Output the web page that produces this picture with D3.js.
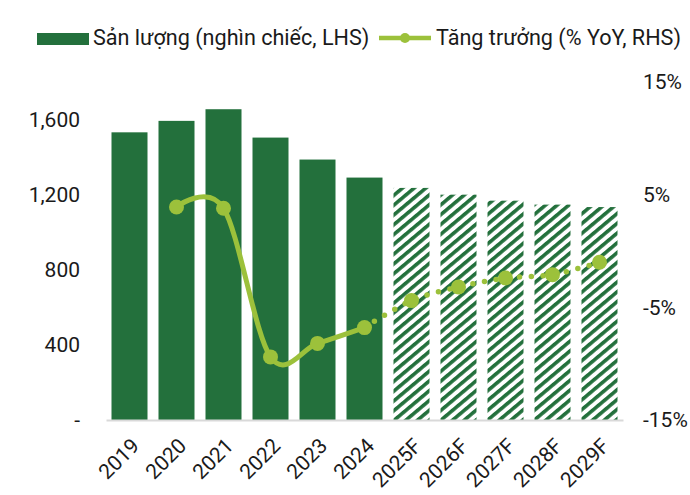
<!DOCTYPE html>
<html>
<head>
<meta charset="utf-8">
<script src="https://cdn.jsdelivr.net/npm/d3@7"></script>
<style>
  html, body { margin: 0; padding: 0; background: #fff; }
  svg { display: block; }
  svg text { font-family: Roboto, "Noto Sans", sans-serif; }
</style>
</head>
<body>
<div id="chart"></div>
<script>
// Chart data
var years    = [ '2019', '2020', '2021', '2022', '2023', '2024', '2025F', '2026F', '2027F', '2028F', '2029F' ];
var forecast = [ false, false, false, false, false, false, true, true, true, true, true ];
var output   = [ 1532, 1593, 1655, 1504, 1387, 1291, 1236, 1200, 1168, 1147, 1134 ];
var growth   = [ null, 3.9, 3.8, -9.4, -8.2, -6.8, -4.4, -3.2, -2.4, -2.1, -1.0 ];
var leftTicks  = [ 0, 400, 800, 1200, 1600 ];
var rightTicks = [ -15, -5, 5, 15 ];
var legendLabels = [ 'Sản lượng (nghìn chiếc, LHS)', 'Tăng trưởng (% YoY, RHS)' ];

( function () {
	'use strict';

	var COLORS = {
		bar:  '#23703c',
		line: '#9cc13b',
		axis: '#d9d9d9',
		text: '#1a1a1a'
	};
	var FONT = '21px';
	var LEGEND_FONT = '21.6px';

	var width = 690, height = 495;
	var margin = { top: 82, right: 67, bottom: 75, left: 106 };
	var iw = width - margin.left - margin.right;
	var ih = height - margin.top - margin.bottom;

	var svg = d3.select( '#chart' ).append( 'svg' )
		.attr( 'width', width )
		.attr( 'height', height );

	// Hatch pattern for forecast bars.
	var defs = svg.append( 'defs' );
	var pat = defs.append( 'pattern' )
		.attr( 'id', 'hatch' )
		.attr( 'patternUnits', 'userSpaceOnUse' )
		.attr( 'width', 7.5 )
		.attr( 'height', 7.5 )
		.attr( 'patternTransform', 'rotate(50)' );
	pat.append( 'rect' ).attr( 'width', 7.5 ).attr( 'height', 7.5 ).attr( 'fill', '#fff' );
	pat.append( 'rect' ).attr( 'width', 3.6 ).attr( 'height', 7.5 ).attr( 'fill', COLORS.bar );

	var g = svg.append( 'g' )
		.attr( 'transform', 'translate(' + margin.left + ',' + margin.top + ')' );

	var x = d3.scaleBand()
		.domain( years )
		.range( [ 0, iw ] )
		.paddingInner( 0.234 )
		.paddingOuter( 0.117 );

	var yL = d3.scaleLinear().domain( [ 0, 1800 ] ).range( [ ih, 0 ] );
	var yR = d3.scaleLinear().domain( [ -15, 15 ] ).range( [ ih, 0 ] );

	// Left axis.
	g.append( 'g' )
		.call( d3.axisLeft( yL ).tickValues( leftTicks ).tickSize( 0 ).tickPadding( 26 )
			.tickFormat( function ( v ) { return v === 0 ? '-' : d3.format( ',' )( v ); } ) )
		.call( function ( s ) {
			s.select( '.domain' ).remove();
			s.selectAll( 'text' )
				.attr( 'fill', COLORS.text )
				.style( 'font-size', FONT );
		} );

	// Right axis.
	g.append( 'g' )
		.attr( 'transform', 'translate(' + iw + ',0)' )
		.call( d3.axisRight( yR ).tickValues( rightTicks ).tickSize( 0 ).tickPadding( 20 )
			.tickFormat( function ( v ) { return v + '%'; } ) )
		.call( function ( s ) {
			s.select( '.domain' ).remove();
			s.selectAll( 'text' )
				.attr( 'fill', COLORS.text )
				.style( 'font-size', FONT );
		} );

	// Bars.
	g.selectAll( 'rect.bar' )
		.data( years )
		.join( 'rect' )
		.attr( 'class', 'bar' )
		.attr( 'x', function ( d ) { return x( d ); } )
		.attr( 'y', function ( d, i ) { return yL( output[ i ] ); } )
		.attr( 'width', x.bandwidth() )
		.attr( 'height', function ( d, i ) { return ih - yL( output[ i ] ); } )
		.attr( 'fill', function ( d, i ) { return forecast[ i ] ? 'url(#hatch)' : COLORS.bar; } );

	// X axis.
	g.append( 'g' )
		.attr( 'transform', 'translate(0,' + ih + ')' )
		.call( d3.axisBottom( x ).tickSize( 0 ).tickPadding( 0 ) )
		.call( function ( s ) {
			s.select( '.domain' ).attr( 'stroke', COLORS.axis ).attr( 'stroke-width', 2 );
			s.selectAll( 'text' )
				.attr( 'fill', COLORS.text )
				.style( 'font-size', FONT )
				.attr( 'text-anchor', 'end' )
				.attr( 'dy', '0.35em' )
				.attr( 'transform', 'translate(6,22) rotate(-45)' );
		} );

	// Growth line: actuals solid & smooth, forecast dotted.
	var pts = years.map( function ( d, i ) {
		return { year: d, v: growth[ i ], f: forecast[ i ] };
	} ).filter( function ( d ) { return d.v !== null; } );

	var line = d3.line()
		.x( function ( d ) { return x( d.year ) + x.bandwidth() / 2; } )
		.y( function ( d ) { return yR( d.v ); } )
		.curve( d3.curveCardinal.tension( 0 ) );

	var actual = pts.filter( function ( d ) { return ! d.f; } );
	var fcst   = [ actual[ actual.length - 1 ] ].concat( pts.filter( function ( d ) { return d.f; } ) );

	g.append( 'path' )
		.datum( actual )
		.attr( 'fill', 'none' )
		.attr( 'stroke', COLORS.line )
		.attr( 'stroke-width', 5 )
		.attr( 'stroke-linecap', 'round' )
		.attr( 'd', line );

	g.append( 'path' )
		.datum( fcst )
		.attr( 'fill', 'none' )
		.attr( 'stroke', COLORS.line )
		.attr( 'stroke-width', 5.5 )
		.attr( 'stroke-linecap', 'round' )
		.attr( 'stroke-dasharray', '0 11.8' )
		.attr( 'd', line );

	g.selectAll( 'circle.pt' )
		.data( pts )
		.join( 'circle' )
		.attr( 'class', 'pt' )
		.attr( 'cx', function ( d ) { return x( d.year ) + x.bandwidth() / 2; } )
		.attr( 'cy', function ( d ) { return yR( d.v ); } )
		.attr( 'r', 7.5 )
		.attr( 'fill', COLORS.line );

	// Legend.
	var lg = svg.append( 'g' ).attr( 'transform', 'translate(0,38)' );
	lg.append( 'rect' )
		.attr( 'x', 37 ).attr( 'y', -5 )
		.attr( 'width', 52 ).attr( 'height', 12 )
		.attr( 'fill', COLORS.bar );
	lg.append( 'text' )
		.attr( 'x', 93 ).attr( 'y', 0 ).attr( 'dy', '0.33em' )
		.attr( 'fill', COLORS.text )
		.style( 'font-size', LEGEND_FONT )
		.text( legendLabels[ 0 ] );
	lg.append( 'line' )
		.attr( 'x1', 379 ).attr( 'x2', 431 )
		.attr( 'y1', 0 ).attr( 'y2', 0 )
		.attr( 'stroke', COLORS.line )
		.attr( 'stroke-width', 4.5 );
	lg.append( 'circle' )
		.attr( 'cx', 405 ).attr( 'cy', 0 ).attr( 'r', 5 )
		.attr( 'fill', COLORS.line );
	lg.append( 'text' )
		.attr( 'x', 436 ).attr( 'y', 0 ).attr( 'dy', '0.33em' )
		.attr( 'fill', COLORS.text )
		.style( 'font-size', LEGEND_FONT )
		.text( legendLabels[ 1 ] );
} )();
</script>
</body>
</html>
